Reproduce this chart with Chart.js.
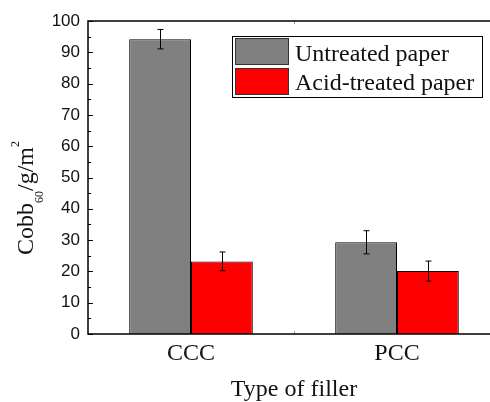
<!DOCTYPE html>
<html>
<head>
<meta charset="utf-8">
<script src="https://cdn.jsdelivr.net/npm/chart.js@4.4.1/dist/chart.umd.min.js"></script>
<style>
  html, body { margin: 0; padding: 0; background: #fff; overflow: hidden; }
  #wrap { width: 490px; height: 402px; overflow: hidden; }
</style>
</head>
<body>
<div id="wrap"><canvas id="chartCobb" width="500" height="402"></canvas></div>
<script>
// --- DADOS DO GRÁFICO ---
const categories = ['CCC', 'PCC'];
const seriesLabels = ['Untreated paper', 'Acid-treated paper'];
const untreated = [94.2, 29.3];
const untreatedErr = [3.1, 3.7];
const acidTreated = [23.2, 20.1];
const acidErr = [3.0, 3.2];
const yMin = 0;
const yMax = 100;
const yStep = 10;
const xTitle = 'Type of filler';

const SERIF = "'Liberation Serif', 'Times New Roman', serif";
const SANS = "'Liberation Sans', Arial, sans-serif";

// barras de erro (desvio) por cima das colunas
const errorBars = {
    id: 'errorBars',
    afterDatasetsDraw(chart) {
        const { ctx, scales: { y } } = chart;
        ctx.save();
        ctx.strokeStyle = '#000';
        ctx.lineWidth = 1;
        chart.data.datasets.forEach((ds, di) => {
            const meta = chart.getDatasetMeta(di);
            meta.data.forEach((bar, i) => {
                const v = ds.data[i], e = ds.errors[i];
                const x = Math.round(bar.x) + 0.5;
                const yt = y.getPixelForValue(v + e);
                const yb = y.getPixelForValue(v - e);
                ctx.beginPath();
                ctx.moveTo(x, yt); ctx.lineTo(x, yb);
                ctx.moveTo(x - 3, yt); ctx.lineTo(x + 3, yt);
                ctx.moveTo(x - 3, yb); ctx.lineTo(x + 3, yb);
                ctx.stroke();
            });
        });
        ctx.restore();
    }
};

// moldura e ticks para dentro (estilo Origin)
const frameTicks = {
    id: 'frameTicks',
    afterDatasetsDraw(chart) {
        const { ctx, chartArea: a, scales: { x, y } } = chart;
        ctx.save();
        ctx.strokeStyle = '#000';
        ctx.lineWidth = 1;
        for (let v = yMin; v <= yMax; v += yStep / 2) {
            const py = Math.round(y.getPixelForValue(v)) + 0.5;
            const len = (v % yStep === 0) ? 5 : 3;
            ctx.beginPath();
            ctx.moveTo(a.left, py); ctx.lineTo(a.left + len, py);
            ctx.moveTo(a.right, py); ctx.lineTo(a.right - len, py);
            ctx.stroke();
        }
        // tick entre categorias
        ctx.strokeStyle = '#999';
        for (let i = 0; i < categories.length - 1; i++) {
            const px = Math.round((x.getPixelForValue(i) + x.getPixelForValue(i + 1)) / 2) + 0.5;
            ctx.beginPath();
            ctx.moveTo(px, a.bottom); ctx.lineTo(px, a.bottom - 3);
            ctx.moveTo(px, a.top); ctx.lineTo(px, a.top + 3);
            ctx.stroke();
        }
        ctx.strokeStyle = '#000';
        ctx.lineWidth = 1.5;
        ctx.strokeRect(a.left, a.top, a.right - a.left, a.bottom - a.top);
        ctx.restore();
    }
};

// título do eixo Y com subscrito e sobrescrito
const yTitle = {
    id: 'yTitle',
    afterDraw(chart) {
        const { ctx } = chart;
        const parts = [
            { t: 'Cobb', size: 24, dy: 0 },
            { t: '60', size: 12, dy: 10 },
            { t: '/g/m', size: 24, dy: 0 },
            { t: '2', size: 12, dy: -14 }
        ];
        ctx.save();
        let total = 0;
        parts.forEach(p => {
            ctx.font = `${p.size}px ${SERIF}`;
            p.w = ctx.measureText(p.t).width;
            total += p.w;
        });
        ctx.translate(32.5, 198 + total / 2);
        ctx.rotate(-Math.PI / 2);
        ctx.fillStyle = '#111';
        ctx.textBaseline = 'alphabetic';
        let cx = 0;
        parts.forEach(p => {
            ctx.font = `${p.size}px ${SERIF}`;
            ctx.fillText(p.t, cx, p.dy);
            cx += p.w;
        });
        ctx.restore();
    }
};

// legenda com caixa
const boxLegend = {
    id: 'boxLegend',
    afterDraw(chart) {
        const { ctx } = chart;
        const bx = 232, by = 36, bw = 250, bh = 61;
        ctx.save();
        ctx.fillStyle = '#fff';
        ctx.fillRect(bx, by, bw, bh);
        ctx.strokeStyle = '#000';
        ctx.lineWidth = 1;
        ctx.strokeRect(bx + 0.5, by + 0.5, bw, bh);
        chart.data.datasets.forEach((ds, i) => {
            const sy = by + 2.5 + i * 30;
            ctx.fillStyle = ds.backgroundColor;
            ctx.fillRect(bx + 3.5, sy, 53, 26);
            ctx.strokeStyle = '#333';
            ctx.strokeRect(bx + 3.5, sy, 53, 26);
            ctx.fillStyle = '#111';
            ctx.font = `24px ${SERIF}`;
            ctx.textBaseline = 'alphabetic';
            ctx.fillText(ds.label, bx + 63, by + 25 + i * 29);
        });
        ctx.restore();
    }
};

new Chart(document.getElementById('chartCobb'), {
    type: 'bar',
    data: {
        labels: categories,
        datasets: [
            {
                label: seriesLabels[0],
                data: untreated,
                errors: untreatedErr,
                backgroundColor: '#808080',
                borderColor: '#000',
                borderWidth: 1
            },
            {
                label: seriesLabels[1],
                data: acidTreated,
                errors: acidErr,
                backgroundColor: '#ff0000',
                borderColor: '#000',
                borderWidth: 1
            }
        ]
    },
    options: {
        responsive: false,
        animation: false,
        devicePixelRatio: 1,
        layout: { padding: { left: 0, top: 21, right: 0, bottom: 0 } },
        datasets: { bar: { categoryPercentage: 0.6, barPercentage: 1.0 } },
        plugins: {
            legend: { display: false },
            tooltip: { enabled: false }
        },
        scales: {
            x: {
                grid: { display: false, drawTicks: false },
                border: { display: false },
                ticks: { color: '#111', padding: 5, font: { family: SERIF, size: 24, lineHeight: 1.2 } },
                title: {
                    display: true,
                    text: xTitle,
                    color: '#111',
                    padding: 0,
                    font: { family: SERIF, size: 24, lineHeight: 1.0 }
                },
                afterFit: (s) => { s.height = 68; }
            },
            y: {
                min: yMin,
                max: yMax,
                grid: { display: false, drawTicks: false },
                border: { display: false },
                ticks: { stepSize: yStep, color: '#111', padding: 8, font: { family: SANS, size: 17 } },
                afterFit: (s) => { s.width = 88; }
            }
        }
    },
    plugins: [errorBars, frameTicks, yTitle, boxLegend]
});
</script>
</body>
</html>
